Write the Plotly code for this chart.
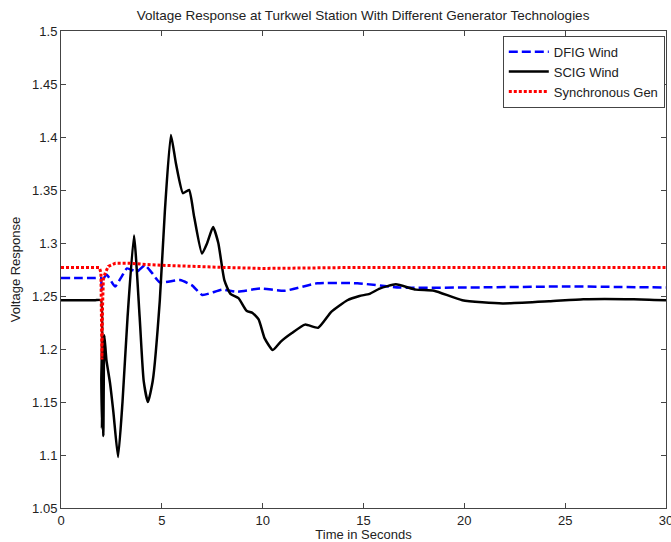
import plotly.graph_objects as go

# SCIG wind (black solid)
scig_t = [0, 1.0, 1.7, 1.98, 2.0, 2.03, 2.06, 2.1, 2.15, 2.25, 2.43, 2.6, 2.83, 3.05, 3.3, 3.62, 3.9, 4.1,
          4.31, 4.55, 4.9, 5.15, 5.45, 5.7, 6.05, 6.35, 6.6, 6.99, 7.25, 7.54, 7.8, 8.1, 8.4,
          8.8, 9.2, 9.5, 9.8, 10.1, 10.5, 10.9, 11.45, 12.1, 12.75, 13.4, 14.2, 14.8, 15.3,
          15.8, 16.6, 17.6, 18.5, 19.9, 21.9, 24.2, 25.9, 28.4, 30]
scig_v = [1.246, 1.246, 1.246, 1.246, 1.17, 1.125, 1.19, 1.118, 1.213, 1.19, 1.168, 1.14, 1.098, 1.15, 1.23, 1.307, 1.23, 1.17,
          1.150, 1.17, 1.246, 1.33, 1.402, 1.375, 1.347, 1.350, 1.325, 1.290, 1.300, 1.315, 1.300, 1.265, 1.252,
          1.248, 1.236, 1.234, 1.228, 1.21, 1.199, 1.207, 1.215, 1.223, 1.220, 1.235, 1.246, 1.250, 1.252,
          1.257, 1.261, 1.256, 1.255, 1.246, 1.243, 1.245, 1.247, 1.247, 1.246]

# DFIG wind (blue dashed)
dfig_t = [0, 1.0, 1.7, 1.98, 2.0, 2.05, 2.1, 2.27, 2.68, 3.0, 3.27, 3.77, 4.16, 4.5, 4.9, 5.9, 6.5, 7.0, 8.0,
          8.7, 9.9, 11.1, 12.7, 14.7, 16.8, 20.1, 25.1, 30]
dfig_v = [1.267, 1.267, 1.267, 1.267, 1.255, 1.262, 1.266, 1.270, 1.259, 1.268, 1.276, 1.273, 1.279, 1.272, 1.263, 1.265, 1.260, 1.251, 1.256,
          1.254, 1.257, 1.255, 1.262, 1.262, 1.258, 1.258, 1.259, 1.258]

# Synchronous generator (red dotted)
sync_t = [0, 1.9, 1.98, 2.0, 2.03, 2.06, 2.1, 2.2, 2.35, 2.7, 3.4, 4.0, 5.0, 8.0, 10.0, 15.0, 20, 25, 30]
sync_v = [1.277, 1.277, 1.272, 1.22, 1.19, 1.24, 1.266, 1.272, 1.278, 1.281, 1.281, 1.280, 1.279, 1.277, 1.276, 1.277, 1.277, 1.277, 1.277]

x_ticks = [0, 5, 10, 15, 20, 25, 30]
y_ticks = [1.05, 1.1, 1.15, 1.2, 1.25, 1.3, 1.35, 1.4, 1.45, 1.5]
y_labels = ['1.05', '1.1', '1.15', '1.2', '1.25', '1.3', '1.35', '1.4', '1.45', '1.5']

fig = go.Figure()
fig.add_trace(go.Scatter(x=dfig_t, y=dfig_v, mode='lines', name='DFIG Wind',
                         line=dict(color='#0000ff', width=2.5, dash='9px,4px',
                                   shape='spline', smoothing=0.5)))
fig.add_trace(go.Scatter(x=scig_t, y=scig_v, mode='lines', name='SCIG Wind',
                         line=dict(color='black', width=2.5, shape='spline', smoothing=0.5)))
fig.add_trace(go.Scatter(x=sync_t, y=sync_v, mode='lines', name='Synchronous Gen',
                         line=dict(color='#ff0000', width=3, dash='3px,2px')))

axis_common = dict(showline=True, linecolor='#444', linewidth=1, mirror='ticks',
                   ticks='inside', ticklen=5, tickcolor='#444', showgrid=False, zeroline=False,
                   automargin=False, ticklabeloverflow='allow',
                   tickfont=dict(size=13, color='#222'))

fig.update_layout(
    width=671, height=542,
    font=dict(family='Liberation Sans, Arial', size=13, color='#222'),
    paper_bgcolor='white', plot_bgcolor='white',
    margin=dict(l=61, r=5, t=31, b=34),
    title=dict(text='Voltage Response at Turkwel Station With Different Generator Technologies',
               x=0.541, xanchor='center', y=0.971, yanchor='middle', font=dict(size=13.5)),
    xaxis=dict(range=[0, 30], tickvals=x_ticks,
               title=dict(text='Time in Seconds', standoff=1, font=dict(size=13)), **axis_common),
    yaxis=dict(range=[1.05, 1.5], tickvals=y_ticks, ticktext=y_labels,
               title=dict(text='Voltage Response', standoff=8, font=dict(size=13)), **axis_common),
    legend=dict(x=0.998, y=0.99, xanchor='right', yanchor='top', bgcolor='white',
                bordercolor='#444', borderwidth=1, font=dict(size=13),
                tracegroupgap=0, itemwidth=40),
    showlegend=True,
)

fig.write_html("out.html", config={'displayModeBar': False},
               post_script="document.body.style.margin='0';")
